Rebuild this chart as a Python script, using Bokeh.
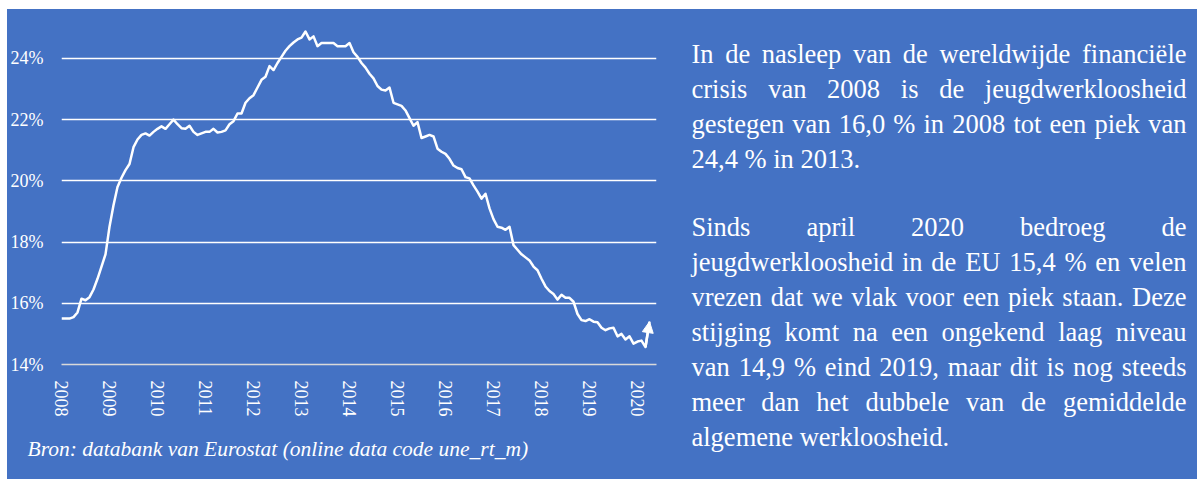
from bokeh.plotting import figure
from bokeh.layouts import row, column
from bokeh.models import FixedTicker, ColumnDataSource, Arrow, NormalHead, Spacer, Title
from bokeh.embed import file_html
from bokeh.resources import INLINE
from bokeh.core.properties import value

# ---------------- data (monthly, Jan 2008 .. Apr 2020) ----------------
youth_unemployment = [
    15.5, 15.5, 15.5, 15.55, 15.7, 16.15, 16.1, 16.2, 16.45, 16.8, 17.2, 17.6,      # 2008
    18.5, 19.2, 19.8, 20.1, 20.35, 20.55, 21.1, 21.35, 21.5, 21.55, 21.48, 21.6,    # 2009
    21.7, 21.78, 21.7, 21.85, 22.0, 21.85, 21.72, 21.7, 21.8, 21.6, 21.5, 21.55,    # 2010
    21.6, 21.6, 21.7, 21.58, 21.6, 21.65, 21.85, 21.95, 22.2, 22.2, 22.55, 22.7,    # 2011
    22.8, 23.05, 23.3, 23.4, 23.75, 23.62, 23.85, 24.05, 24.25, 24.4, 24.52, 24.62, # 2012
    24.68, 24.88, 24.62, 24.72, 24.4, 24.5, 24.5, 24.5, 24.5, 24.4, 24.4, 24.4,     # 2013
    24.5, 24.2, 24.05, 23.85, 23.7, 23.5, 23.35, 23.1, 22.98, 22.95, 23.05, 22.55,  # 2014
    22.5, 22.45, 22.3, 22.05, 21.8, 21.92, 21.4, 21.45, 21.5, 21.45, 21.05, 20.95,  # 2015
    20.88, 20.72, 20.5, 20.42, 20.38, 20.12, 20.08, 19.85, 19.65, 19.42, 19.58, 19.1,  # 2016
    18.75, 18.5, 18.47, 18.4, 18.5, 17.9, 17.75, 17.6, 17.5, 17.4, 17.2, 17.08,     # 2017
    16.8, 16.55, 16.4, 16.3, 16.12, 16.28, 16.18, 16.18, 16.05, 15.65, 15.45, 15.42,  # 2018
    15.48, 15.4, 15.38, 15.2, 15.12, 15.18, 15.2, 14.92, 15.0, 14.82, 14.92, 14.68,   # 2019
    14.75, 14.78, 14.57, 15.4,                                                       # 2020
]
year_labels = ["2008", "2009", "2010", "2011", "2012", "2013", "2014",
               "2015", "2016", "2017", "2018", "2019", "2020"]
y_ticks = [14, 16, 18, 20, 22, 24]
y_tick_labels = ["14%", "16%", "18%", "20%", "22%", "24%"]
source_note = "Bron: databank van Eurostat (online data code une_rt_m)"
paragraph1 = [
    "In de nasleep van de wereldwijde financiële",
    "crisis van 2008 is de jeugdwerkloosheid",
    "gestegen van 16,0 % in 2008 tot een piek van",
    "24,4 % in 2013.",
]
paragraph2 = [
    "Sinds april 2020 bedroeg de",
    "jeugdwerkloosheid in de EU 15,4 % en velen",
    "vrezen dat we vlak voor een piek staan. Deze",
    "stijging komt na een ongekend laag niveau",
    "van 14,9 % eind 2019, maar dit is nog steeds",
    "meer dan het dubbele van de gemiddelde",
    "algemene werkloosheid.",
]

# ---------------- layout / styling ----------------
BG = "#4472C4"
FONT = "Liberation Serif"
OFF_X, OFF_Y = 7, 9                # white band left / top
FULL_H = 479 - OFF_Y
CHART_W = 673
TEXT_W = 1197 - OFF_X - CHART_W
BL, BR, BT, BB = 54, 24, 3, 115    # chart borders
BLUE = {"background-color": BG}

months = list(range(len(youth_unemployment)))

p = figure(width=CHART_W, height=FULL_H, output_backend="svg", toolbar_location=None,
           x_range=(0, len(months) + 0.75), y_range=(14, 25.5),
           min_border_left=BL, min_border_right=BR, min_border_top=BT, min_border_bottom=BB,
           background_fill_color=None, border_fill_color=None, outline_line_color=None,
           styles=BLUE, frame_align=False)

# x axis (years)
p.xaxis.ticker = FixedTicker(ticks=[12 * k for k in range(len(year_labels))])
p.xaxis.major_label_overrides = {12 * k: lab for k, lab in enumerate(year_labels)}
p.xaxis.major_label_orientation = "vertical"
p.xaxis.axis_line_color = "#D9D9D9"
p.xaxis.axis_line_width = 1.5
p.xaxis.major_tick_line_color = None
p.xaxis.minor_tick_line_color = None
p.xaxis.major_label_standoff = 10
p.xaxis.major_label_text_font = FONT
p.xaxis.major_label_text_font_size = "18px"
p.xaxis.major_label_text_color = "white"
p.xgrid.visible = False

# y axis (percent)
p.yaxis.ticker = FixedTicker(ticks=y_ticks)
p.yaxis.major_label_overrides = {t: lab for t, lab in zip(y_ticks, y_tick_labels)}
p.yaxis.axis_line_color = None
p.yaxis.major_tick_line_color = None
p.yaxis.minor_tick_line_color = None
p.yaxis.major_label_standoff = 12
p.yaxis.major_label_text_font = FONT
p.yaxis.major_label_text_font_size = "18px"
p.yaxis.major_label_text_color = "white"
p.ygrid.ticker = FixedTicker(ticks=y_ticks[1:])
p.ygrid.grid_line_color = "white"
p.ygrid.grid_line_width = 1.5

# series line + arrow on last segment
p.line(months, youth_unemployment, line_color="white", line_width=2.5, line_join="round")
p.add_layout(Arrow(end=NormalHead(size=11, fill_color="white", line_color="white", line_width=1),
                   x_start=months[-2], y_start=youth_unemployment[-2],
                   x_end=months[-1], y_end=youth_unemployment[-1],
                   line_color="white", line_width=2.5))

# source note under the axis
p.add_layout(Title(text=source_note, align="left", offset=27 - (OFF_X + BL),
                   text_font=FONT, text_font_style="italic", text_font_size="21.5px",
                   text_color="white", standoff=31), "below")

# ---------------- justified text block ----------------
TIMES = {
    ' ': 250, 'a': 444, 'b': 500, 'c': 444, 'd': 500, 'e': 444, 'f': 333, 'g': 500, 'h': 500,
    'i': 278, 'j': 278, 'k': 500, 'l': 278, 'm': 778, 'n': 500, 'o': 500, 'p': 500, 'q': 500,
    'r': 333, 's': 389, 't': 278, 'u': 500, 'v': 500, 'w': 722, 'x': 500, 'y': 500, 'z': 444,
    'ë': 444, 'I': 333, 'S': 556, 'E': 611, 'U': 722, 'D': 722, ',': 250, '.': 250, '%': 833,
}
for d in "0123456789":
    TIMES[d] = 500


def word_w(w, fs):
    return sum(TIMES.get(c, 500) for c in w) * fs / 1000.0


FS = 26.5
X0 = OFF_X + CHART_W               # page x of the text figure's left edge
TEXT_L, TEXT_R = 691 - X0, 1186 - X0
LINE_H = 35.1
para_baselines = [53 - OFF_Y, 226 - OFF_Y]

left_w = dict(x=[], y=[], text=[])
right_w = dict(x=[], y=[], text=[])
for para, base in zip([paragraph1, paragraph2], para_baselines):
    for li, line in enumerate(para):
        words = line.split(" ")
        yb = base + li * LINE_H
        if li == len(para) - 1:
            xpos = TEXT_L
            for w in words:
                left_w["x"].append(xpos); left_w["y"].append(yb); left_w["text"].append(w)
                xpos += word_w(w, FS) + word_w(" ", FS)
        else:
            widths = [word_w(w, FS) for w in words]
            gap = (TEXT_R - TEXT_L - sum(widths)) / (len(words) - 1)
            xpos = TEXT_L
            for k, (w, wd) in enumerate(zip(words, widths)):
                if k == len(words) - 1:
                    right_w["x"].append(TEXT_R); right_w["y"].append(yb); right_w["text"].append(w)
                else:
                    left_w["x"].append(xpos); left_w["y"].append(yb); left_w["text"].append(w)
                xpos += wd + gap

txt = figure(width=TEXT_W, height=FULL_H, output_backend="svg", toolbar_location=None,
             x_range=(0, TEXT_W), y_range=(FULL_H, 0), min_border=0,
             background_fill_color=None, border_fill_color=None, outline_line_color=None,
             styles=BLUE, frame_align=False)
txt.axis.visible = False
txt.grid.visible = False
txt.text(x="x", y="y", text="text", source=ColumnDataSource(left_w),
         text_font=value(FONT), text_font_size=f"{FS}px", text_color="white",
         text_baseline="alphabetic", text_align="left")
txt.text(x="x", y="y", text="text", source=ColumnDataSource(right_w),
         text_font=value(FONT), text_font_size=f"{FS}px", text_color="white",
         text_baseline="alphabetic", text_align="right")

layout = column(Spacer(width=1197, height=OFF_Y),
                row(Spacer(width=OFF_X, height=FULL_H), p, txt, spacing=0),
                spacing=0)

open("out.html", "w").write(file_html(layout, INLINE))
